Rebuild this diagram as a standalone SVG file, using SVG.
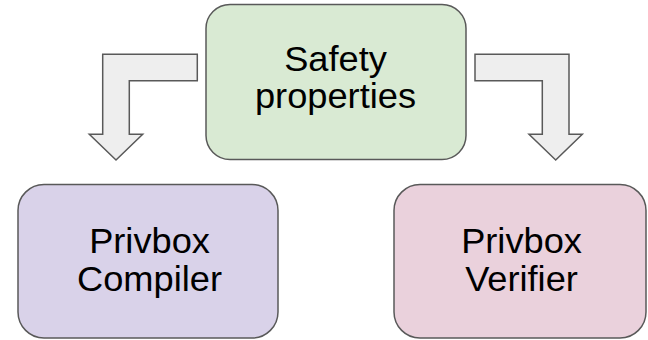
<svg xmlns="http://www.w3.org/2000/svg" width="648" height="340" viewBox="0 0 648 340">
  <style>
    .box { stroke: #595959; stroke-width: 1.5; }
    .arrow { fill: #eeeeee; stroke: #595959; stroke-width: 1.5; stroke-linejoin: miter; }
    .label { font-family: "Liberation Sans", Arial, sans-serif; font-size: 34.5px; fill: #000000; text-anchor: middle; }
  </style>
  <rect width="648" height="340" fill="#ffffff"/>

  <g id="connectors">
    <!-- bent block arrow to the compiler -->
    <polygon class="arrow" points="197.3,54.3 102.7,54.3 102.7,134.3 89.3,134.3 116,160 142.7,134.3 129.3,134.3 129.3,80.7 197.3,80.7"/>
    <!-- bent block arrow to the verifier -->
    <polygon class="arrow" points="475,54.3 569,54.3 569,134.3 582.3,134.3 555.7,160 529,134.3 542.3,134.3 542.3,80.7 475,80.7"/>
  </g>

  <g id="safety-properties">
    <rect class="box" x="206" y="4.5" width="260" height="155" rx="24" ry="24" fill="#d9ead3"/>
    <g transform="matrix(1.05 0 0 1 335.5 0)">
      <text class="label" x="0" y="71.5">Safety</text>
      <text class="label" x="0" y="108.5">properties</text>
    </g>
  </g>

  <g id="privbox-compiler">
    <rect class="box" x="18" y="184.5" width="260" height="153.5" rx="26" ry="26" fill="#d9d2e9"/>
    <g transform="matrix(1.05 0 0 1 149.5 0)">
      <text class="label" x="0" y="253.5">Privbox</text>
      <text class="label" x="0" y="291.5">Compiler</text>
    </g>
  </g>

  <g id="privbox-verifier">
    <rect class="box" x="394" y="184.5" width="252" height="153.5" rx="26" ry="26" fill="#ead1dc"/>
    <g transform="matrix(1.05 0 0 1 521.5 0)">
      <text class="label" x="0" y="253.5">Privbox</text>
      <text class="label" x="0" y="291.5">Verifier</text>
    </g>
  </g>
</svg>
